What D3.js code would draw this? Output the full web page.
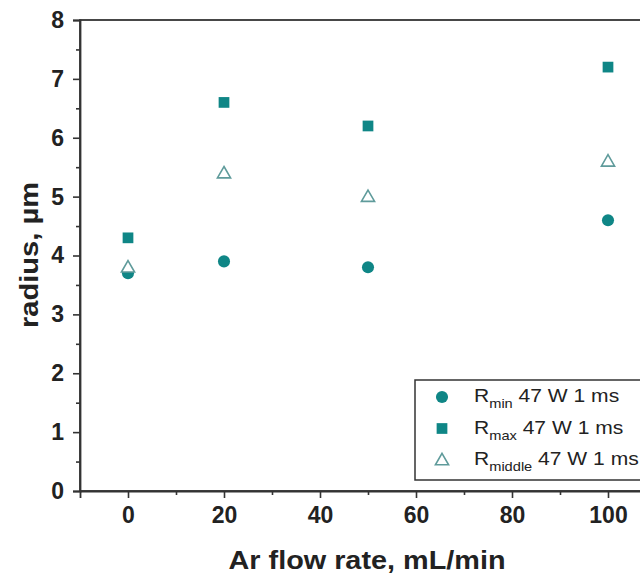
<!DOCTYPE html>
<html>
<head>
  <meta charset="UTF-8" />
  <title>Radius vs Ar flow rate</title>
  <style>
    body { margin: 0; background: #fff; }
    svg { font-family: Arial, "Liberation Sans", sans-serif; display: block; }
  </style>
  <script src="https://d3js.org/d3.v7.min.js"></script>
</head>
<body>
  <div id="chart"></div>
  <script>
    // data
    const flowRates = [0, 20, 50, 100];
    const rMin = [3.7, 3.9, 3.8, 4.6];
    const rMax = [4.3, 6.6, 6.2, 7.2];
    const rMiddle = [3.8, 5.4, 5.0, 5.6];
    const xTicks = [0, 20, 40, 60, 80, 100];
    const yTicks = [0, 1, 2, 3, 4, 5, 6, 7, 8];

    const width = 640, height = 576;
    const teal = "#0f8686";
    const triStroke = "#5f9b9b";
    const axisColor = "#333";

    const svg = d3.select("#chart").append("svg")
      .attr("width", width).attr("height", height);

    const x = d3.scaleLinear().domain([-10, 110]).range([80, 656]);
    const y = d3.scaleLinear().domain([0, 8]).range([491, 20]);

    // frame (right side runs off the picture)
    svg.append("rect")
      .attr("x", x(-10)).attr("y", y(8))
      .attr("width", x(110) - x(-10)).attr("height", y(0) - y(8))
      .attr("fill", "none").attr("stroke", axisColor).attr("stroke-width", 1.8);

    /* Y axis */
    svg.append("g")
      .attr("transform", "translate(" + x(-10) + ",0)")
      .call(d3.axisLeft(y).tickValues(yTicks).tickSize(7).tickPadding(9).tickFormat(d3.format("d")));
    svg.append("g")
      .attr("transform", "translate(" + x(-10) + ",0)")
      .call(d3.axisLeft(y).tickValues(d3.range(0.5, 8, 1)).tickSize(4).tickFormat(""))
      .call(g => g.select(".domain").remove());

    /* X axis */
    svg.append("g")
      .attr("transform", "translate(0," + y(0) + ")")
      .call(d3.axisBottom(x).tickValues(xTicks).tickSize(7).tickPadding(9).tickFormat(d3.format("d")));
    svg.append("g")
      .attr("transform", "translate(0," + y(0) + ")")
      .call(d3.axisBottom(x).tickValues([10, 30, 50, 70, 90]).tickSize(4).tickFormat(""))
      .call(g => g.select(".domain").remove());

    svg.selectAll(".domain").attr("stroke", axisColor).attr("stroke-width", 1.8);
    svg.selectAll(".tick line").attr("stroke", axisColor).attr("stroke-width", 1.6);
    svg.selectAll(".tick text")
      .attr("font-family", "Arial, 'Liberation Sans', sans-serif")
      .attr("font-size", 23).attr("font-weight", "bold").attr("fill", "#222");

    /* Axis titles */
    svg.append("text")
      .attr("transform", "translate(38,255) rotate(-90)")
      .attr("text-anchor", "middle")
      .attr("font-size", 25).attr("font-weight", "bold").attr("fill", "#222")
      .attr("textLength", 146).attr("lengthAdjust", "spacingAndGlyphs")
      .text("radius, µm");

    svg.append("text")
      .attr("x", 367).attr("y", 569)
      .attr("text-anchor", "middle")
      .attr("font-size", 25).attr("font-weight", "bold").attr("fill", "#222")
      .attr("textLength", 277).attr("lengthAdjust", "spacingAndGlyphs")
      .text("Ar flow rate, mL/min");

    /* Points */
    const plot = svg.append("g");
    const symCircle = d3.symbol().type(d3.symbolCircle).size(115);
    const symSquare = d3.symbol().type(d3.symbolSquare).size(115);
    const symTriangle = d3.symbol().type(d3.symbolTriangle).size(75);

    plot.selectAll(".rmin").data(flowRates).enter().append("path")
      .attr("class", "rmin")
      .attr("d", symCircle)
      .attr("transform", (d, i) => "translate(" + x(d) + "," + y(rMin[i]) + ")")
      .attr("fill", teal);

    plot.selectAll(".rmax").data(flowRates).enter().append("path")
      .attr("class", "rmax")
      .attr("d", symSquare)
      .attr("transform", (d, i) => "translate(" + x(d) + "," + y(rMax[i]) + ")")
      .attr("fill", teal);

    plot.selectAll(".rmid").data(flowRates).enter().append("path")
      .attr("class", "rmid")
      .attr("d", symTriangle)
      .attr("transform", (d, i) => "translate(" + x(d) + "," + (y(rMiddle[i]) + 1) + ")")
      .attr("fill", "#fff").attr("stroke", triStroke).attr("stroke-width", 1.6);

    /* Legend */
    const legend = svg.append("g");
    legend.append("rect")
      .attr("x", 415).attr("y", 380).attr("width", 260).attr("height", 100)
      .attr("fill", "#fff").attr("stroke", axisColor).attr("stroke-width", 1.5);

    const legendItems = [
      { sym: symCircle, sub: "min", fill: teal, stroke: "none" },
      { sym: symSquare, sub: "max", fill: teal, stroke: "none" },
      { sym: symTriangle, sub: "middle", fill: "#fff", stroke: triStroke }
    ];
    legendItems.forEach((it, i) => {
      const ly = 397 + i * 31.5;
      legend.append("path")
        .attr("d", it.sym)
        .attr("transform", "translate(442," + (ly + (i === 2 ? 1 : 0)) + ")")
        .attr("fill", it.fill).attr("stroke", it.stroke).attr("stroke-width", 1.6);
      const t = legend.append("text")
        .attr("transform", "translate(474," + (ly + 5) + ") scale(1.17,1)")
        .attr("font-size", 18).attr("fill", "#222");
      t.append("tspan").text("R");
      t.append("tspan").attr("font-size", 12.5).attr("dy", 6).text(it.sub);
      t.append("tspan").attr("dy", -6).text(" 47 W 1 ms");
    });
  </script>
</body>
</html>
